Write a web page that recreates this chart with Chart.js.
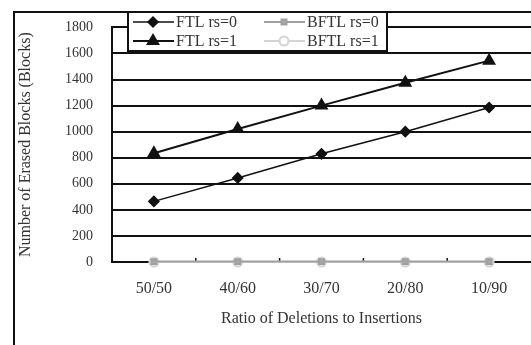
<!DOCTYPE html>
<html>
<head>
<meta charset="utf-8">
<script src="https://cdn.jsdelivr.net/npm/chart.js@4/dist/chart.umd.min.js"></script>
<style>
  html, body { margin: 0; padding: 0; background: #fff; }
  #wrap { width: 531px; height: 345px; position: relative; }
</style>
</head>
<body>
<div id="wrap"><canvas id="myChart" width="531" height="345"></canvas></div>
<script>
const categories = ['50/50', '40/60', '30/70', '20/80', '10/90'];
const ftl_rs0 = [465, 645, 830, 1000, 1185];
const ftl_rs1 = [835, 1020, 1200, 1375, 1545];
const bftl_rs0 = [3, 3, 3, 3, 3];
const bftl_rs1 = [0, 0, 0, 0, 0];
const yTicks = [0, 200, 400, 600, 800, 1000, 1200, 1400, 1600, 1800];

const serif = '"Liberation Serif", "Times New Roman", serif';

// frame, legend box and small x ticks
const extras = {
    id: 'extras',
    beforeDatasetsDraw(chart) {
        const ctx = chart.ctx;
        const x = chart.scales.x;
        const area = chart.chartArea;
        ctx.save();
        ctx.strokeStyle = '#111';
        ctx.lineWidth = 1.5;
        for (let i = 0; i < categories.length - 1; i++) {
            let px = (x.getPixelForTick(i) + x.getPixelForTick(i + 1)) / 2;
            ctx.beginPath();
            ctx.moveTo(px, area.bottom - 4);
            ctx.lineTo(px, area.bottom);
            ctx.stroke();
        }
        ctx.restore();
    },
    afterDraw(chart) {
        const ctx = chart.ctx;
        ctx.save();
        // outer border
        ctx.strokeStyle = '#111';
        ctx.lineWidth = 2;
        ctx.beginPath();
        ctx.moveTo(14, 360);
        ctx.lineTo(14, 12);
        ctx.lineTo(540, 12);
        ctx.stroke();

        // legend box
        ctx.fillStyle = '#fff';
        ctx.fillRect(128, 12, 259, 39);
        ctx.strokeRect(128, 12, 259, 39);

        const items = [
            { ds: 0, x: 133, y: 22 },
            { ds: 1, x: 133, y: 41 },
            { ds: 2, x: 264, y: 22 },
            { ds: 3, x: 264, y: 41 }
        ];
        ctx.font = '16px ' + serif;
        ctx.textBaseline = 'middle';
        items.forEach(it => {
            const d = chart.data.datasets[it.ds];
            ctx.strokeStyle = d.borderColor;
            ctx.lineWidth = d.borderWidth;
            ctx.beginPath();
            ctx.moveTo(it.x, it.y);
            ctx.lineTo(it.x + 41, it.y);
            ctx.stroke();
            ctx.fillStyle = d.backgroundColor;
            Chart.helpers.drawPoint(ctx, {
                pointStyle: d.pointStyle,
                radius: d.pointRadius,
                rotation: 0,
                borderWidth: 1
            }, it.x + 20, it.y);
            ctx.fillStyle = '#333';
            ctx.fillText(d.label, it.x + 43, it.y + 1);
        });
        ctx.restore();
    }
};

const ctx = document.getElementById('myChart');
const myChart = new Chart(ctx, {
    type: 'line',
    data: {
        labels: categories,
        datasets: [{
            label: 'FTL rs=0',
            data: ftl_rs0,
            borderColor: '#111',
            backgroundColor: '#111',
            borderWidth: 1.5,
            pointStyle: 'rectRot',
            pointRadius: 5,
            clip: false
        }, {
            label: 'FTL rs=1',
            data: ftl_rs1,
            borderColor: '#111',
            backgroundColor: '#111',
            borderWidth: 2,
            pointStyle: 'triangle',
            pointRadius: 6,
            clip: false
        }, {
            label: 'BFTL rs=0',
            data: bftl_rs0,
            borderColor: '#a0a0a0',
            backgroundColor: '#a8a8a8',
            borderWidth: 2,
            pointStyle: 'rect',
            pointRadius: 3.5,
            clip: false
        }, {
            label: 'BFTL rs=1',
            data: bftl_rs1,
            borderColor: '#d4d4d4',
            backgroundColor: '#fff',
            borderWidth: 2,
            pointStyle: 'circle',
            pointRadius: 4.5,
            clip: false
        }]
    },
    options: {
        responsive: false,
        animation: false,
        layout: { autoPadding: false, padding: { left: 0, top: 27, right: 0, bottom: 0 } },
        plugins: {
            legend: { display: false },
            tooltip: { enabled: false }
        },
        elements: { line: { tension: 0 } },
        scales: {
            x: {
                offset: true,
                grid: { display: true, drawOnChartArea: false, drawTicks: true, tickLength: 17, tickColor: 'rgba(0,0,0,0)' },
                border: { display: false },
                ticks: { padding: 0, color: '#333', font: { family: serif, size: 16 } },
                title: {
                    display: true,
                    text: 'Ratio of Deletions to Insertions',
                    color: '#333',
                    font: { family: serif, size: 16 },
                    padding: { top: 17, bottom: 17 }
                },
                afterFit(scale) {
                    scale.height = 83;
                    scale.paddingLeft = 0;
                    scale.paddingRight = 0;
                }
            },
            y: {
                min: 0,
                max: 1800,
                afterBuildTicks(scale) {
                    scale.ticks = yTicks.map(v => ({ value: v }));
                },
                grid: { color: '#111', lineWidth: 2, drawTicks: false },
                border: { color: '#111', width: 2 },
                ticks: {
                    padding: 19,
                    color: '#333',
                    font: { family: serif, size: 14 },
                    callback: v => String(v)
                },
                title: {
                    display: true,
                    text: 'Number of Erased Blocks (Blocks)',
                    color: '#333',
                    font: { family: serif, size: 16 },
                    padding: { top: 16, bottom: 16 }
                },
                afterFit(scale) { scale.width = 112; }
            }
        }
    },
    plugins: [extras]
});
</script>
</body>
</html>
